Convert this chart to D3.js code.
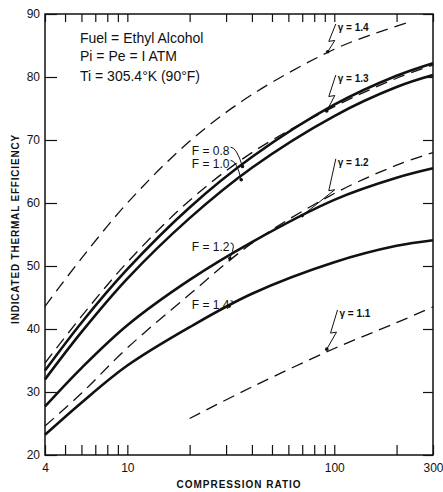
<!DOCTYPE html>
<html>
<head>
<meta charset="utf-8">
<script src="https://cdn.jsdelivr.net/npm/d3@7"></script>
<style>
    body { margin: 0; background: #fff; }
    text { font-family: "Liberation Sans", Arial, sans-serif; fill: #111; }
    .curve { fill: none; stroke: #111; }
</style>
</head>
<body>
<svg id="chart" width="443" height="492"></svg>
<script>
// compression ratios that the curves were read at
var ratios = [4, 6, 10, 20, 40, 100, 200, 300];

// solid curves, fuel/air equivalence ratio F
var f08 = [33.4, 41.0, 49.5, 59.3, 67.3, 75.6, 80.2, 82.2];
var f10 = [32.0, 39.5, 48.0, 57.6, 65.6, 73.8, 78.4, 80.3];
var f12 = [27.7, 33.8, 40.6, 47.8, 53.8, 60.5, 64.0, 65.5];
var f14 = [23.2, 28.3, 34.2, 40.3, 45.6, 50.6, 53.2, 54.1];

// dashed curves, constant gamma
var g14Ratios = [4, 6, 10, 20, 40, 100, 160, 230];
var g14 = [43.6, 51.2, 60.0, 69.8, 77.2, 84.4, 87.0, 88.7];
var g13 = [34.6, 42.0, 50.6, 60.4, 68.0, 75.3, 79.8, 81.9];
var g12 = [24.6, 29.8, 37.0, 45.5, 53.6, 61.5, 66.0, 68.0];
var g11Ratios = [20, 40, 100, 200, 300];
var g11 = [25.8, 30.8, 36.9, 41.0, 43.5];

// axis ticks
var xTicks = [4, 5, 6, 7, 8, 9, 10, 20, 30, 40, 50, 60, 70, 80, 90, 100, 200, 300];
var xLabels = [4, 10, 100, 300];
var yTicks = [20, 30, 40, 50, 60, 70, 80, 90];

// notes in the top left corner
var notes = ["Fuel = Ethyl Alcohol", "Pi = Pe = I ATM", "Ti = 305.4\u00b0K (90\u00b0F)"];

// curve labels: text position and pointer end, in data units
var gammaLabels = [
    { text: "\u03b3 = 1.4", r: 104, v: 87.3, ar: 93, av: 84.0 },
    { text: "\u03b3 = 1.3", r: 104, v: 79.2, ar: 92, av: 74.6 },
    { text: "\u03b3 = 1.2", r: 104, v: 65.9, ar: 70, av: 58.0 },
    { text: "\u03b3 = 1.1", r: 106, v: 41.9, ar: 92, av: 36.8 }
];
var fLabels = [
    { text: "F = 0.8", r: 20.5, v: 67.6, ar: 36, av: 65.8 },
    { text: "F = 1.0", r: 20.5, v: 65.5, ar: 35.5, av: 63.7 },
    { text: "F = 1.2", r: 20.5, v: 52.4, ar: 31.3, av: 51.2 },
    { text: "F = 1.4", r: 20.5, v: 43.2, ar: 31, av: 43.6 }
];

function drawChart() {
    var svg = d3.select("#chart");
    var mLeft = 45, mRight = 433, mTop = 14, mBottom = 455;

    var x = d3.scaleLog().domain([4, 300]).range([mLeft, mRight]);
    var y = d3.scaleLinear().domain([20, 90]).range([mBottom, mTop]);

    function zip(rs, vs) {
        return rs.map(function(r, i) { return { r: r, v: vs[i] }; });
    }

    var line = d3.line()
        .x(function(d) { return x(d.r); })
        .y(function(d) { return y(d.v); })
        .curve(d3.curveCatmullRom.alpha(0.5));

    // frame
    svg.append("rect")
        .attr("x", mLeft).attr("y", mTop)
        .attr("width", mRight - mLeft).attr("height", mBottom - mTop)
        .attr("fill", "none").attr("stroke", "#111").attr("stroke-width", 1.5);

    // axes, ticks point inward
    function noDomain(g) {
        g.select(".domain").remove();
        g.selectAll("line").attr("stroke", "#111").attr("stroke-width", 1.2);
    }

    svg.append("g")
        .attr("transform", "translate(0," + mBottom + ")")
        .call(d3.axisBottom(x).tickValues(xTicks).tickSize(-10).tickPadding(8)
            .tickFormat(function(d) { return xLabels.indexOf(d) >= 0 ? d : ""; }))
        .call(noDomain)
        .selectAll("text").style("font-size", "12px").attr("font-family", null);

    svg.append("g")
        .attr("transform", "translate(0," + mTop + ")")
        .call(d3.axisTop(x).tickValues(xTicks).tickSize(-8).tickFormat(""))
        .call(noDomain);

    svg.append("g")
        .attr("transform", "translate(" + mLeft + ",0)")
        .call(d3.axisLeft(y).tickValues(yTicks).tickSize(-12).tickPadding(5))
        .call(noDomain)
        .selectAll("text").style("font-size", "12px").attr("font-family", null);

    svg.append("g")
        .attr("transform", "translate(" + mRight + ",0)")
        .call(d3.axisRight(y).tickValues(yTicks).tickSize(-10).tickFormat(""))
        .call(noDomain);

    // dashed gamma curves
    var dashed = [zip(g14Ratios, g14), zip(ratios, g13), zip(ratios, g12), zip(g11Ratios, g11)];
    svg.append("g").selectAll("path")
        .data(dashed)
        .enter().append("path")
        .attr("class", "curve")
        .attr("stroke-width", 1.3)
        .attr("stroke-dasharray", "12,7")
        .attr("d", line);

    // solid F curves
    var solid = [f08, f10, f12, f14].map(function(s) { return zip(ratios, s); });
    svg.append("g").selectAll("path")
        .data(solid)
        .enter().append("path")
        .attr("class", "curve")
        .attr("stroke-width", 2.6)
        .attr("d", line);

    // notes
    svg.append("g").selectAll("text")
        .data(notes)
        .enter().append("text")
        .attr("x", 80)
        .attr("y", function(d, i) { return [43, 61, 81][i]; })
        .style("font-size", "14px")
        .text(function(d) { return d; });

    // gamma labels with zigzag pointers
    var gl = svg.append("g");
    gammaLabels.forEach(function(d) {
        var tx = x(d.r), ty = y(d.v), ax = x(d.ar), ay = y(d.av);
        gl.append("text")
            .attr("x", tx).attr("y", ty)
            .style("font-size", "10px").style("font-weight", "bold")
            .text(d.text);
        var my = (ty + ay) / 2;
        var pts = [[tx - 2, ty - 7], [tx - 9, my], [tx - 3, my - 1], [ax, ay]];
        gl.append("path")
            .attr("d", d3.line()(pts))
            .attr("fill", "none").attr("stroke", "#111").attr("stroke-width", 1);
        gl.append("circle").attr("cx", ax).attr("cy", ay).attr("r", 1.8).attr("fill", "#111");
    });

    // F labels with small curled pointers
    var fl = svg.append("g");
    fLabels.forEach(function(d) {
        var tx = x(d.r), ty = y(d.v), ax = x(d.ar), ay = y(d.av);
        var t = fl.append("text")
            .attr("x", tx).attr("y", ty)
            .style("font-size", "12px")
            .text(d.text);
        var ex = tx + t.node().getComputedTextLength() + 1;
        fl.append("path")
            .attr("d", "M" + ex + "," + (ty - 8) + " Q" + (ex + 6) + "," + (ty - 8) + " " + ax + "," + ay)
            .attr("fill", "none").attr("stroke", "#111").attr("stroke-width", 1);
        fl.append("circle").attr("cx", ax).attr("cy", ay).attr("r", 1.8).attr("fill", "#111");
    });

    // axis titles
    svg.append("text")
        .attr("x", (mLeft + mRight) / 2)
        .attr("y", 488)
        .attr("text-anchor", "middle")
        .style("font-size", "10px").style("font-weight", "bold").style("letter-spacing", "1px")
        .text("COMPRESSION RATIO");

    svg.append("text")
        .attr("transform", "translate(19,229) rotate(-90)")
        .attr("text-anchor", "middle")
        .style("font-size", "10px").style("font-weight", "bold").style("letter-spacing", "0.8px")
        .text("INDICATED THERMAL EFFICIENCY");
}

drawChart();
</script>
</body>
</html>
